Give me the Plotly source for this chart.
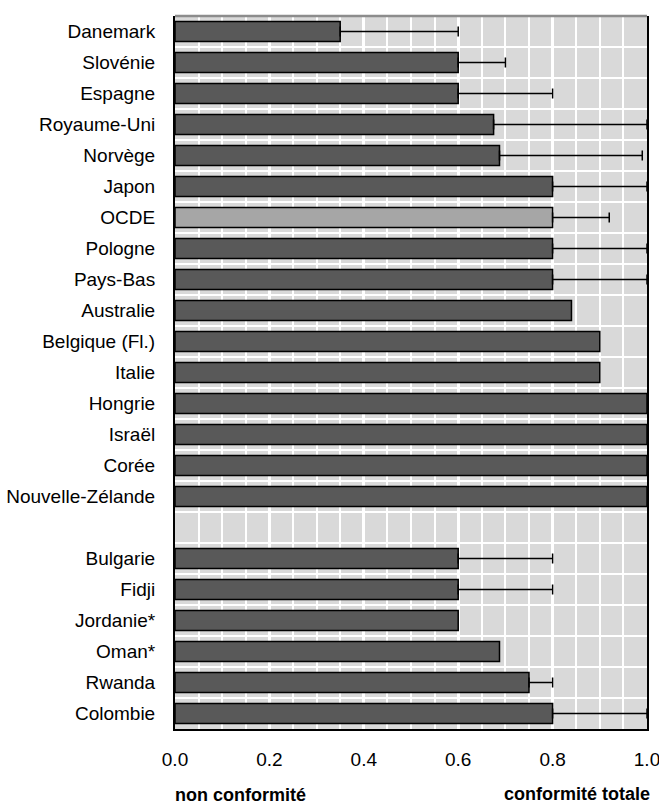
import plotly.graph_objects as go

# OECD members (top block) and partner countries (bottom block)
oecd_countries = ["Danemark", "Slovénie", "Espagne", "Royaume-Uni", "Norvège", "Japon",
                  "OCDE", "Pologne", "Pays-Bas", "Australie", "Belgique (Fl.)", "Italie",
                  "Hongrie", "Israël", "Corée", "Nouvelle-Zélande"]
oecd_values = [0.35, 0.60, 0.60, 0.675, 0.6875, 0.80,
               0.80, 0.80, 0.80, 0.84, 0.90, 0.90,
               1.00, 1.00, 1.00, 1.00]
oecd_upper = [0.60, 0.70, 0.80, 1.00, 0.99, 1.00,
              0.92, 1.00, 1.00, None, None, None,
              None, None, None, None]

partner_countries = ["Bulgarie", "Fidji", "Jordanie*", "Oman*", "Rwanda", "Colombie"]
partner_values = [0.60, 0.60, 0.60, 0.6875, 0.75, 0.80]
partner_upper = [0.80, 0.80, None, None, 0.80, 1.00]

x_ticks = [0.0, 0.2, 0.4, 0.6, 0.8, 1.0]
x_tick_labels = ["0.0", "0.2", "0.4", "0.6", "0.8", "1.0"]

SPACER = " "
categories = oecd_countries + [SPACER] + partner_countries
values = oecd_values + [None] + partner_values
upper = oecd_upper + [None] + partner_upper

DARK = "#595959"
LIGHT = "#A6A6A6"
bar_colors = [LIGHT if c == "OCDE" else DARK for c in categories]

FONT = "Liberation Sans, Arial, sans-serif"

fig = go.Figure()

fig.add_trace(go.Bar(
    x=values,
    y=categories,
    orientation="h",
    width=0.65,
    marker=dict(color=bar_colors, line=dict(color="black", width=1.5)),
    hoverinfo="x+y",
    showlegend=False,
))

# one-sided whiskers: from the bar end up to the upper bound
err_cats = [c for c, u in zip(categories, upper) if u is not None]
err_vals = [v for v, u in zip(values, upper) if u is not None]
err_plus = [u - v for v, u in zip(values, upper) if u is not None]

fig.add_trace(go.Scatter(
    x=err_vals,
    y=err_cats,
    mode="markers",
    marker=dict(size=1, opacity=0),
    error_x=dict(type="data", symmetric=False, array=err_plus,
                 arrayminus=[0] * len(err_plus),
                 color="black", thickness=1.5, width=5),
    hoverinfo="skip",
    showlegend=False,
))

n_rows = len(categories)

fig.update_layout(
    width=659,
    height=807,
    margin=dict(l=175, r=12, t=16, b=78),
    paper_bgcolor="white",
    plot_bgcolor="#D9D9D9",
    font=dict(family=FONT, size=19, color="black"),
    bargap=0.35,
    xaxis=dict(
        range=[0, 1],
        tickmode="array",
        tickvals=x_ticks,
        ticktext=x_tick_labels,
        ticks="",
        ticklabelstandoff=12,
        ticklabeloverflow="allow",
        automargin=False,
        showgrid=True,
        gridcolor="white",
        gridwidth=2.5,
        minor=dict(dtick=0.05, tick0=0, showgrid=True, gridcolor="white", gridwidth=1.5),
        showline=True,
        linecolor="black",
        linewidth=2,
        zeroline=False,
        fixedrange=True,
    ),
    yaxis=dict(
        type="category",
        categoryorder="array",
        categoryarray=categories,
        range=[n_rows - 0.5, -0.5],
        tickson="boundaries",
        ticks="",
        ticklabelstandoff=14,
        automargin=False,
        showgrid=True,
        gridcolor="white",
        gridwidth=2,
        showline=True,
        linecolor="black",
        linewidth=2,
        mirror=True,
        zeroline=False,
        fixedrange=True,
    ),
    shapes=[
        dict(type="line", xref="paper", yref="paper", x0=0, x1=1, y0=1, y1=1,
             line=dict(color="#8C8C8C", width=2.5)),
    ],
    annotations=[
        dict(text="<b>non conformité</b>", xref="paper", yref="paper",
             x=0.138, y=-0.092, xanchor="center", yanchor="middle",
             showarrow=False, font=dict(family=FONT, size=18)),
        dict(text="<b>conformité totale</b>", xref="paper", yref="paper",
             x=0.851, y=-0.091, xanchor="center", yanchor="middle",
             showarrow=False, font=dict(family=FONT, size=18)),
    ],
)

fig.write_html("out.html")
